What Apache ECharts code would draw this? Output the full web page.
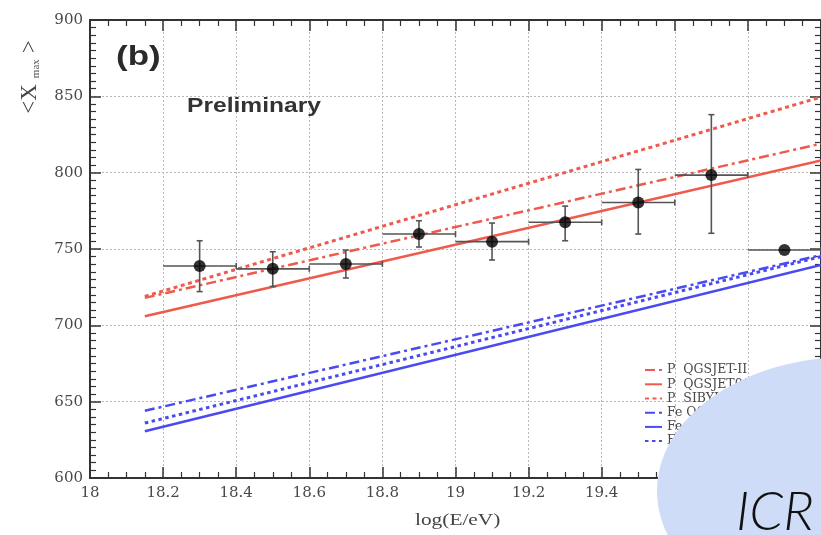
<!DOCTYPE html>
<html>
<head>
<meta charset="utf-8">
<script src="https://cdn.jsdelivr.net/npm/echarts@6/dist/echarts.min.js"></script>
<style>html,body{margin:0;padding:0;background:#fff}#c{width:821px;height:535px}</style>
</head>
<body>
<div id="c"></div>
<script>
// ---- data ----
const xTicks = [18, 18.2, 18.4, 18.6, 18.8, 19, 19.2, 19.4, 19.6, 19.8, 20];
const yTicks = [600, 650, 700, 750, 800, 850, 900];
const pointX    = [18.3, 18.5, 18.7, 18.9, 19.1, 19.3, 19.5, 19.7, 19.9];
const pointY    = [738.9, 737.0, 740.2, 759.8, 754.8, 767.5, 780.5, 798.4, 749.3];
const errLow    = [722.1, 725.4, 731.0, 751.3, 742.8, 755.4, 759.8, 760.3, 749.3];
const errHigh   = [755.4, 748.2, 749.3, 768.5, 767.0, 778.1, 802.1, 838.0, 749.3];
const binLow    = [18.2, 18.4, 18.6, 18.8, 19.0, 19.2, 19.4, 19.6, 19.8];
const binHigh   = [18.4, 18.6, 18.8, 19.0, 19.2, 19.4, 19.6, 19.8, 20.0];
const lineX     = [18.15, 20];
const pQGSJETII = [718, 819];
const pQGSJET01 = [706, 808];
const pSIBYLL   = [719, 849.5];
const feQGSJETII= [644, 746];
const feQGSJET01= [630.6, 739.5];
const feSIBYLL  = [636, 745];
const legendNames = ['P  QGSJET-II', 'P  QGSJET01', 'P  SIBYLL2.1', 'Fe QGSJET-II', 'Fe QGSJET01', 'Fe SIBYLL2.1'];

const RED = '#ef5a4c', BLUE = '#4a4af2';
const serif = '"Liberation Serif", "DejaVu Serif", serif';
const wideSerif = '"DejaVu Serif", serif';
const sans = '"Liberation Sans", Arial, sans-serif';

function pairs(ys){ return lineX.map((x,i)=>[x, ys[i]]); }
function lineSeries(name, ys, color, type, width){
  return { name, type:'line', data:pairs(ys), symbol:'none', showSymbol:false, silent:true, z:3,
    lineStyle:{ color, width, type }, itemStyle:{ color } };
}

const errData = pointX.map((x,i)=>[x, pointY[i], errLow[i], errHigh[i], binLow[i], binHigh[i]]);

const chart = echarts.init(document.getElementById('c'), null, {renderer:'canvas'});
const axisLineStyle = { color:'#333', width:2 };
const commonX = {
  type:'value', min:18, max:20, interval:0.2,
  axisLine:{ show:true, onZero:false, lineStyle:axisLineStyle },
  axisTick:{ show:true, inside:true, length:11, lineStyle:{ color:'#333', width:1.5 } },
  minorTick:{ show:true, splitNumber:4, length:6, lineStyle:{ color:'#333', width:1.2 } }
};
const commonY = {
  type:'value', min:600, max:900, interval:50,
  axisLine:{ show:true, onZero:false, lineStyle:axisLineStyle },
  axisTick:{ show:true, inside:true, length:11, lineStyle:{ color:'#333', width:1.5 } },
  minorTick:{ show:true, splitNumber:10, length:6, lineStyle:{ color:'#333', width:1.2 } }
};

chart.setOption({
  animation:false,
  backgroundColor:'#fff',
  grid:{ left:90, top:20, width:733, height:458, containLabel:false },
  xAxis:[
    Object.assign({}, commonX, { position:'bottom',
      axisLabel:{ show:true, margin:8, color:'#484848', fontSize:15, fontFamily:wideSerif, showMaxLabel:false,
        formatter:v=>{ const t = xTicks.find(k=>Math.abs(k-v)<1e-6); return t===undefined? '' : String(t); } },
      splitLine:{ show:true, lineStyle:{ color:'#b8b8b8', type:[2,2], width:1 } } }),
    Object.assign({}, commonX, { position:'top', axisLabel:{show:false}, splitLine:{show:false} })
  ],
  yAxis:[
    Object.assign({}, commonY, { position:'left',
      axisLabel:{ show:true, margin:7, color:'#484848', fontSize:15, fontFamily:wideSerif,
        formatter:v=>{ const t = yTicks.find(k=>Math.abs(k-v)<1e-6); return t===undefined? '' : String(t); } },
      splitLine:{ show:true, lineStyle:{ color:'#b8b8b8', type:[2,2], width:1 } } }),
    Object.assign({}, commonY, { position:'right', axisLabel:{show:false}, splitLine:{show:false} })
  ],
  legend:{
    orient:'vertical', left:644, top:363, padding:0, itemWidth:17, itemHeight:8, itemGap:0,
    data:legendNames,
    itemStyle:{ opacity:0 },
    textStyle:{ fontFamily:wideSerif, fontSize:12.5, lineHeight:14.2, color:'#4a4a4a', padding:[0,0,0,0] },
    selectedMode:false
  },
  series:[
    lineSeries(legendNames[0], pQGSJETII, RED, [10,4,3,4], 2.5),
    lineSeries(legendNames[1], pQGSJET01, RED, 'solid', 2.5),
    lineSeries(legendNames[2], pSIBYLL, RED, [4,3.5], 3),
    lineSeries(legendNames[3], feQGSJETII, BLUE, [10,4,3,4], 2.5),
    lineSeries(legendNames[4], feQGSJET01, BLUE, 'solid', 2.5),
    lineSeries(legendNames[5], feSIBYLL, BLUE, [3.5,3.5], 3),
    {
      type:'custom', silent:true, z:4,
      data:errData,
      renderItem:function(params, api){
        const c = api.coord([api.value(0), api.value(1)]);
        const lo = api.coord([api.value(0), api.value(2)]);
        const hi = api.coord([api.value(0), api.value(3)]);
        const l = api.coord([api.value(4), api.value(1)]);
        const r = api.coord([api.value(5), api.value(1)]);
        const st = { stroke:'#555', lineWidth:1.6 };
        const ch = [
          { type:'line', shape:{ x1:l[0], y1:l[1], x2:r[0], y2:r[1] }, style:st },
          { type:'line', shape:{ x1:r[0], y1:r[1]-3, x2:r[0], y2:r[1]+3 }, style:st }
        ];
        if (Math.abs(hi[1]-lo[1]) > 1) {
          ch.push({ type:'line', shape:{ x1:c[0], y1:lo[1], x2:c[0], y2:hi[1] }, style:st });
          ch.push({ type:'line', shape:{ x1:c[0]-3, y1:lo[1], x2:c[0]+3, y2:lo[1] }, style:st });
          ch.push({ type:'line', shape:{ x1:c[0]-3, y1:hi[1], x2:c[0]+3, y2:hi[1] }, style:st });
        }
        return { type:'group', children:ch };
      }
    },
    {
      type:'scatter', silent:true, z:5, symbol:'circle', symbolSize:12,
      itemStyle:{ color:'#000' },
      data:pointX.map((x,i)=>[x, pointY[i]])
    }
  ],
  graphic:[
    { type:'text', x:116, y:43, scaleX:1.25, z:50, style:{ text:'(b)', font:'bold 28px '+sans, fill:'#2a2a2a' } },
    { type:'text', x:187, y:96, scaleX:1.2, z:50, style:{ text:'Preliminary', font:'bold 20.5px '+sans, fill:'#333' } },
    { type:'text', x:30, y:77, rotation:Math.PI/2, z:50,
      style:{ text:'{a|<X}{s|max}{a|>}', align:'center', verticalAlign:'middle',
        rich:{ a:{ fontFamily:serif, fontSize:23, fill:'#444', padding:[0,3,0,3] },
               s:{ fontFamily:serif, fontSize:11, fill:'#555', verticalAlign:'bottom', padding:[10,3,0,3] } } } },
    { type:'text', x:415, y:511, scaleX:1.22, z:50, style:{ text:'log(E/eV)', font:'17.5px '+serif, fill:'#444' } },
    { type:'ellipse', z:100, shape:{ cx:850, cy:491, rx:193, ry:134 }, style:{ fill:'#cfdcf7' } },
    { type:'text', x:736, y:486, z:101, style:{ text:'ICR', font:'italic 300 54px Lato, "Open Sans", sans-serif', fill:'#111' } }
  ]
});
</script>
</body>
</html>
